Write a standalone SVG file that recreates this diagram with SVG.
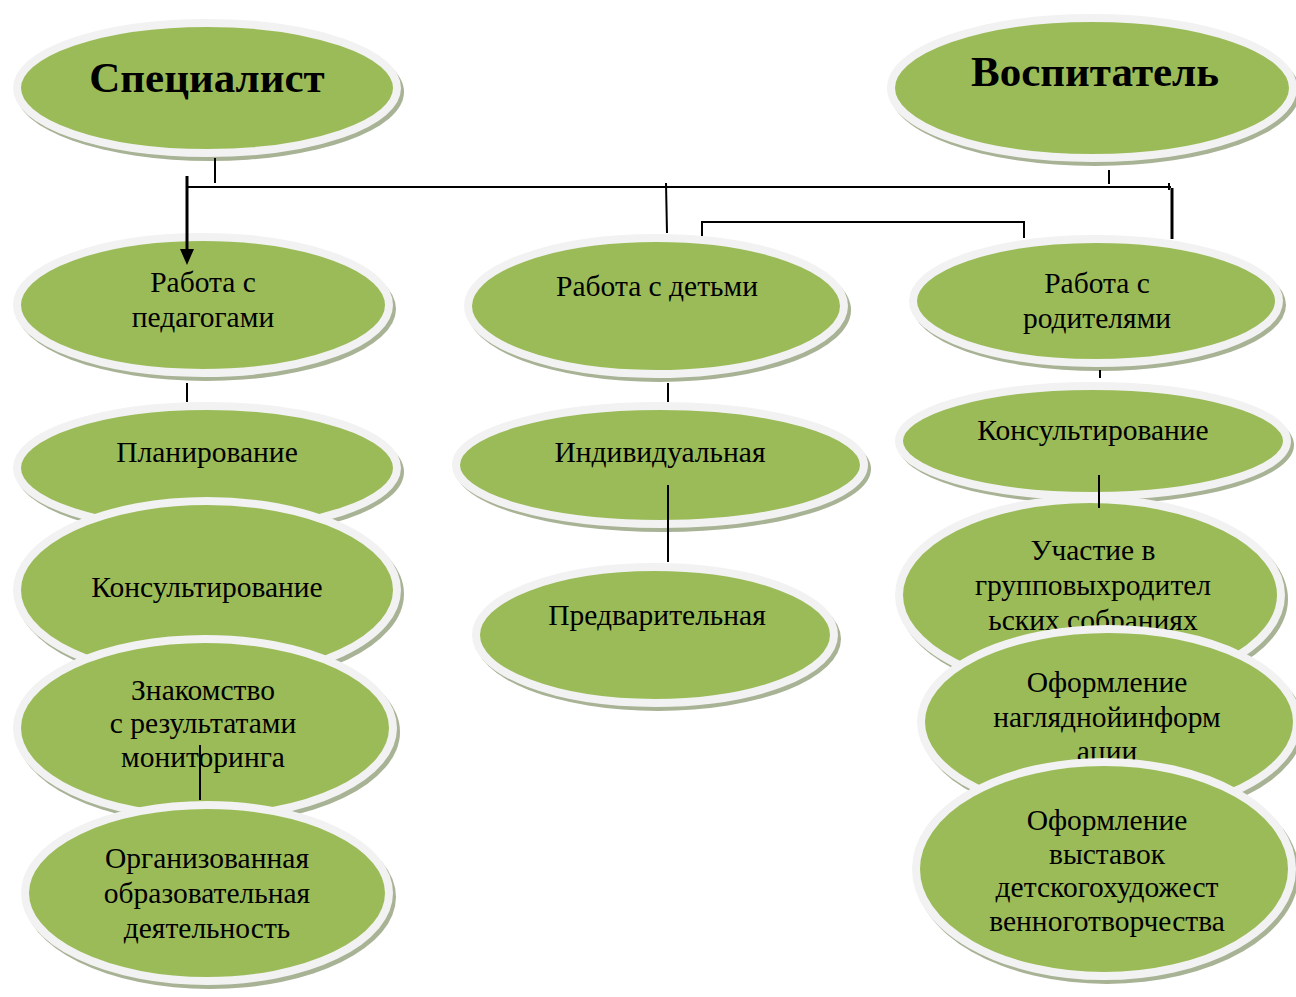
<svg xmlns="http://www.w3.org/2000/svg" width="1296" height="997" viewBox="0 0 1296 997">
<style>
.sh{fill:#A8B294}
.el{fill:#9BBB59;stroke:#F2F2F2;stroke-width:8}
.t{font-family:"Liberation Serif","Times New Roman",serif;font-size:29.5px;fill:#000;text-anchor:middle}
.h{font-family:"Liberation Serif","Times New Roman",serif;font-size:43px;font-weight:bold;fill:#000;text-anchor:middle}
.c{stroke:#000;stroke-width:2;fill:none}
.c3{stroke:#000;stroke-width:3;fill:none}
</style>
<rect width="1296" height="997" fill="#fff"/>
<g id="n-specialist">
<ellipse class="sh" cx="210" cy="92" rx="194" ry="69"/>
<ellipse class="el" cx="207" cy="88" rx="190" ry="65"/>
<text class="h" x="207" y="92">Специалист</text>
</g>
<g id="n-vospitatel">
<ellipse class="sh" cx="1095" cy="92" rx="205" ry="74"/>
<ellipse class="el" cx="1092" cy="88" rx="201" ry="70"/>
<text class="h" x="1095" y="86">Воспитатель</text>
</g>
<g id="n-pedagogi">
<ellipse class="sh" cx="206" cy="309" rx="190" ry="72"/>
<ellipse class="el" cx="203" cy="305" rx="186" ry="68"/>
<text class="t" x="203" y="292">Работа с</text>
<text class="t" x="203" y="327">педагогами</text>
</g>
<g id="n-deti">
<ellipse class="sh" cx="659" cy="310" rx="192" ry="72"/>
<ellipse class="el" cx="656" cy="306" rx="188" ry="68"/>
<text class="t" x="657" y="296">Работа с детьми</text>
</g>
<g id="n-roditeli">
<ellipse class="sh" cx="1099" cy="305" rx="187" ry="66"/>
<ellipse class="el" cx="1096" cy="301" rx="183" ry="62"/>
<text class="t" x="1097" y="293">Работа с</text>
<text class="t" x="1097" y="328">родителями</text>
</g>
<g id="n-planirovanie">
<ellipse class="sh" cx="210" cy="472" rx="194" ry="66"/>
<ellipse class="el" cx="207" cy="468" rx="190" ry="62"/>
<text class="t" x="207" y="462">Планирование</text>
</g>
<g id="n-konsult-left">
<ellipse class="sh" cx="210" cy="594" rx="194" ry="93"/>
<ellipse class="el" cx="207" cy="590" rx="190" ry="89"/>
<text class="t" x="207" y="597">Консультирование</text>
</g>
<g id="n-znakomstvo">
<ellipse class="sh" cx="208" cy="732" rx="192" ry="93"/>
<ellipse class="el" cx="205" cy="728" rx="188" ry="89"/>
<text class="t" x="203" y="700">Знакомство</text>
<text class="t" x="203" y="733">с результатами</text>
<text class="t" x="203" y="767">мониторинга</text>
</g>
<g id="n-organiz">
<ellipse class="sh" cx="210" cy="897" rx="186" ry="92"/>
<ellipse class="el" cx="207" cy="893" rx="182" ry="88"/>
<text class="t" x="207" y="868">Организованная</text>
<text class="t" x="207" y="903">образовательная</text>
<text class="t" x="207" y="938">деятельность</text>
</g>
<g id="n-individ">
<ellipse class="sh" cx="663" cy="469" rx="208" ry="63"/>
<ellipse class="el" cx="660" cy="465" rx="204" ry="59"/>
<text class="t" x="660" y="462">Индивидуальная</text>
</g>
<g id="n-predvar">
<ellipse class="sh" cx="658" cy="639" rx="183" ry="72"/>
<ellipse class="el" cx="655" cy="635" rx="179" ry="68"/>
<text class="t" x="657" y="625">Предварительная</text>
</g>
<g id="n-konsult-right">
<ellipse class="sh" cx="1096" cy="445" rx="198" ry="59"/>
<ellipse class="el" cx="1093" cy="441" rx="194" ry="55"/>
<text class="t" x="1093" y="440">Консультирование</text>
</g>
<g id="n-uchastie">
<ellipse class="sh" cx="1093" cy="599" rx="195" ry="100"/>
<ellipse class="el" cx="1090" cy="595" rx="191" ry="96"/>
<text class="t" x="1093" y="560">Участие в</text>
<text class="t" x="1093" y="595">групповыхродител</text>
<text class="t" x="1093" y="630">ьских собраниях</text>
</g>
<g id="n-oform-nagl">
<ellipse class="sh" cx="1112" cy="726" rx="192" ry="97"/>
<ellipse class="el" cx="1109" cy="722" rx="188" ry="93"/>
<text class="t" x="1107" y="692">Оформление</text>
<text class="t" x="1107" y="727">нагляднойинформ</text>
<text class="t" x="1107" y="761">ации</text>
</g>
<g id="n-oform-vyst">
<ellipse class="sh" cx="1107" cy="873" rx="192" ry="111"/>
<ellipse class="el" cx="1104" cy="869" rx="188" ry="107"/>
<text class="t" x="1107" y="830">Оформление</text>
<text class="t" x="1107" y="864">выставок</text>
<text class="t" x="1107" y="897">детскогохудожест</text>
<text class="t" x="1107" y="931">венноготворчества</text>
</g>
<g id="connectors">
<line class="c" x1="215" y1="158" x2="215" y2="183"/>
<line class="c" x1="187" y1="187" x2="1171" y2="187"/>
<line class="c3" x1="187" y1="176" x2="187" y2="252"/>
<polygon points="180,249 194,249 187,265" fill="#000"/>
<line class="c" x1="666" y1="183" x2="667" y2="233"/>
<line class="c" x1="1169" y1="183" x2="1169" y2="190"/>
<line class="c3" x1="1172" y1="188" x2="1172" y2="239"/>
<line class="c" x1="1109" y1="170" x2="1109" y2="184"/>
<polyline class="c" stroke-width="2.5" points="702,236 702,222 1024,222 1024,238"/>
<line class="c" x1="187" y1="383" x2="187" y2="402"/>
<line class="c" x1="668" y1="383" x2="668" y2="402"/>
<line class="c" x1="668" y1="485" x2="668" y2="562"/>
<line class="c" x1="1100" y1="370" x2="1100" y2="378"/>
<line class="c" x1="1099" y1="475" x2="1099" y2="508"/>
<line class="c" x1="200" y1="745" x2="200" y2="800"/>
</g>
</svg>
